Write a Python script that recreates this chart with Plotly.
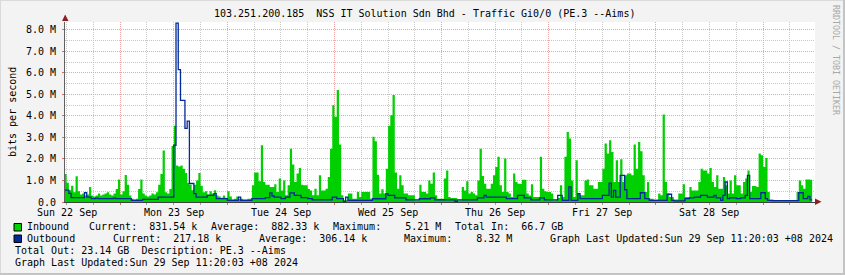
import plotly.graph_objects as go
import pandas as pd

# ---------------- data (30-minute averages, in Mbit/s) ----------------
inbound_mbps = [
    1.3, 0.9, 0.55, 0.75, 0.45, 1.2, 0.5, 0.35, 0.4, 0.3, 0.35, 0.7,
    0.3, 0.25, 0.3, 0.4, 0.3, 0.35, 0.4, 0.45, 0.35, 0.3, 0.4, 0.6,
    1.05, 0.35, 0.5, 1.25, 0.8, 0.3, 0.15, 0.12, 0.15, 0.6, 1.05, 0.4,
    0.3, 0.25, 0.3, 0.4, 0.35, 0.45, 0.8, 1.3, 2.4, 0.45, 0.4, 0.6,
    2.6, 3.55, 1.7, 1.65, 1.7, 1.55, 1.35, 0.9, 0.8, 0.55, 0.8, 1.0,
    1.35, 0.75, 0.45, 0.5, 0.35, 0.5, 0.4, 0.55, 0.3, 0.25, 0.2, 0.3,
    0.2, 0.5, 0.25, 0.12, 0.15, 0.25, 0.15, 0.15, 0.12, 0.12, 0.15, 0.15,
    0.78, 1.37, 1.37, 0.96, 2.64, 0.93, 0.8, 0.8, 0.7, 0.7, 0.82, 0.47,
    1.09, 0.54, 1.0, 0.31, 0.78, 2.48, 1.74, 0.93, 1.32, 1.58, 0.8, 0.78,
    0.78, 0.6, 0.54, 0.31, 0.62, 0.31, 1.24, 0.54, 0.54, 0.62, 1.16, 2.48,
    4.5, 3.96, 5.21, 2.67, 0.31, 0.08, 0.08, 0.39, 0.39, 0.15, 0.15, 0.47,
    0.23, 0.47, 0.47, 0.47, 0.47, 0.15, 3.03, 2.83, 1.27, 0.39, 0.59, 0.39,
    1.55, 3.54, 4.03, 4.97, 1.37, 0.62, 1.24, 0.78, 0.39, 0.39, 0.31, 0.31,
    0.31, 0.08, 0.08, 0.8, 0.47, 0.47, 0.39, 1.0, 0.85, 1.37, 0.31, 0.15,
    0.15, 0.15, 1.09, 1.47, 0.23, 0.19, 0.19, 0.19, 0.08, 0.08, 0.7, 0.54,
    0.96, 0.39, 0.47, 0.4, 0.31, 1.0, 2.48, 1.21, 0.85, 0.62, 0.62, 0.85,
    1.24, 1.63, 2.1, 0.78, 0.47, 2.02, 0.47, 0.39, 0.23, 1.32, 0.93, 0.85,
    0.85, 1.04, 1.04, 0.39, 0.3, 0.82, 0.23, 0.23, 0.23, 2.1, 0.62, 0.5,
    0.47, 0.47, 0.39, 0.08, 0.1, 0.19, 0.78, 0.23, 2.1, 3.26, 2.95, 1.0,
    0.23, 1.94, 0.39, 0.31, 0.31, 1.0, 1.05, 0.78, 0.78, 0.62, 0.62, 0.93,
    0.93, 1.55, 2.72, 2.25, 2.87, 2.33, 0.93, 1.94, 0.93, 1.99, 0.93, 1.24,
    1.32, 1.32, 1.24, 2.67, 1.55, 2.79, 2.36, 1.24, 0.47, 0.93, 0.15, 0.15,
    0.1, 0.1, 0.39, 0.31, 4.07, 0.93, 0.39, 0.23, 0.23, 0.12, 0.12, 0.39,
    0.39, 0.82, 0.23, 0.23, 0.7, 0.54, 0.54, 0.54, 0.93, 1.55, 1.47, 1.47,
    1.32, 1.58, 0.93, 0.7, 1.24, 0.62, 0.62, 1.16, 0.78, 0.39, 1.0, 0.39,
    1.24, 0.78, 0.78, 0.39, 0.93, 1.09, 1.47, 0.47, 0.74, 0.74, 0.7, 2.25,
    2.17, 1.63, 2.05, 0.47, 0.1, 0.1, 0.08, 0.08, 0.08, 0.08, 0.08, 0.08,
    0.08, 0.08, 0.08, 0.08, 0.47, 1.0, 0.78, 0.62, 1.05, 1.05, 1.04, 0.08,
]

outbound_mbps = [
    0.55, 0.55, 0.4, 0.2, 0.2, 0.2, 0.2, 0.2, 0.2, 0.43, 0.23, 0.23,
    0.16, 0.16, 0.18, 0.16, 0.16, 0.16, 0.16, 0.16, 0.16, 0.16, 0.18, 0.16,
    0.16, 0.16, 0.16, 0.16, 0.16, 0.16, 0.08, 0.08, 0.08, 0.08, 0.08, 0.12,
    0.12, 0.12, 0.12, 0.12, 0.12, 0.12, 0.23, 0.23, 0.23, 0.23, 0.23, 0.23,
    0.23, 2.64, 8.32, 6.16, 4.73, 4.73, 3.42, 3.76, 0.86, 0.86, 0.39, 0.23,
    0.23, 0.23, 0.23, 0.23, 0.31, 0.31, 0.31, 0.39, 0.16, 0.16, 0.16, 0.16,
    0.16, 0.08, 0.08, 0.08, 0.08, 0.08, 0.23, 0.08, 0.08, 0.08, 0.08, 0.08,
    0.16, 0.16, 0.16, 0.16, 0.16, 0.16, 0.2, 0.2, 0.42, 0.28, 0.23, 0.23,
    0.23, 0.16, 0.16, 0.23, 0.23, 0.42, 0.42, 0.31, 0.31, 0.31, 0.2, 0.2,
    0.2, 0.16, 0.16, 0.1, 0.1, 0.1, 0.1, 0.1, 0.1, 0.1, 0.1, 0.1,
    0.23, 0.23, 0.16, 0.16, 0.16, 0.03, 0.23, 0.08, 0.08, 0.08, 0.08, 0.08,
    0.08, 0.08, 0.08, 0.08, 0.08, 0.08, 0.15, 0.15, 0.15, 0.15, 0.15, 0.15,
    0.39, 0.31, 0.31, 0.31, 0.19, 0.19, 0.19, 0.19, 0.19, 0.1, 0.1, 0.1,
    0.1, 0.1, 0.1, 0.15, 0.15, 0.15, 0.15, 0.15, 0.19, 0.19, 0.1, 0.1,
    0.1, 0.1, 0.1, 0.1, 0.1, 0.1, 0.1, 0.03, 0.1, 0.1, 0.1, 0.1,
    0.1, 0.1, 0.1, 0.1, 0.1, 0.19, 0.19, 0.19, 0.31, 0.23, 0.23, 0.23,
    0.23, 0.23, 0.23, 0.23, 0.23, 0.23, 0.16, 0.16, 0.16, 0.16, 0.16, 0.31,
    0.31, 0.31, 0.19, 0.19, 0.19, 0.1, 0.1, 0.1, 0.1, 0.19, 0.19, 0.1,
    0.1, 0.1, 0.1, 0.1, 0.1, 0.31, 0.31, 0.08, 0.08, 0.08, 0.7, 0.08,
    0.08, 0.08, 0.39, 0.16, 0.16, 0.16, 0.16, 0.16, 0.16, 0.16, 0.16, 0.16,
    0.16, 0.31, 0.31, 0.31, 0.88, 0.23, 0.54, 0.23, 0.23, 1.24, 1.24, 0.57,
    0.16, 0.16, 0.16, 0.16, 0.16, 0.16, 0.43, 0.43, 0.16, 0.16, 0.08, 0.08,
    0.08, 0.08, 0.08, 0.08, 0.08, 0.08, 0.36, 0.36, 0.08, 0.05, 0.05, 0.05,
    0.05, 0.05, 0.16, 0.16, 0.19, 0.19, 0.23, 0.23, 0.23, 0.31, 0.31, 0.31,
    0.23, 0.23, 0.23, 0.31, 0.19, 0.19, 0.08, 0.31, 0.93, 0.16, 0.19, 0.19,
    0.19, 0.16, 0.16, 0.19, 0.19, 0.31, 1.24, 0.16, 0.16, 0.16, 0.16, 0.16,
    0.43, 0.43, 0.16, 0.08, 0.08, 0.06, 0.06, 0.06, 0.06, 0.06, 0.06, 0.06,
    0.06, 0.06, 0.06, 0.06, 0.06, 0.43, 0.43, 0.16, 0.16, 0.26, 0.1, 0.1,
]

first_sample = "2024-09-21 23:30"
day_labels = ["Sun 22 Sep", "Mon 23 Sep", "Tue 24 Sep", "Wed 25 Sep",
              "Thu 26 Sep", "Fri 27 Sep", "Sat 28 Sep"]
y_tick_values_m = [0, 1, 2, 3, 4, 5, 6, 7, 8]
y_tick_labels = ["0.0", "1.0 M", "2.0 M", "3.0 M", "4.0 M", "5.0 M",
                 "6.0 M", "7.0 M", "8.0 M"]

title_text = "103.251.200.185  NSS IT Solution Sdn Bhd - Traffic Gi0/0 (PE.3 --Aims)"
legend_row1 = [("Inbound", 26), ("Current:  831.54 k", 88), ("Average:  882.33 k", 210),
               ("Maximum:    5.21 M", 332), ("Total In:  66.7 GB", 454)]
legend_row2 = [("Outbound", 26), ("Current:  217.18 k", 112), ("Average:  306.14 k", 258),
               ("Maximum:    8.32 M", 403),
               ("Graph Last Updated:Sun 29 Sep 11:20:03 +08 2024", 549)]
legend_row3 = "Total Out: 23.14 GB  Description: PE.3 --Aims"
legend_row4 = "Graph Last Updated:Sun 29 Sep 11:20:03 +08 2024"

IN_COLOR = "#00CF00"
OUT_COLOR = "#002A97"
FONT = "DejaVu Sans Mono"

# ---------------- derived ----------------
times = pd.date_range(first_sample, periods=len(inbound_mbps), freq="30min")
in_bps = [v * 1e6 for v in inbound_mbps]
out_bps = [v * 1e6 for v in outbound_mbps]
day_ticks = pd.date_range("2024-09-22", periods=len(day_labels), freq="D")
x_left = pd.Timestamp("2024-09-22") - pd.Timedelta(minutes=22)
x_right = x_left + pd.Timedelta(hours=168)

W, H = 845, 275
L, R, T, B = 65, 815, 22, 202
PW, PH = R - L, B - T


def xp(px):
    return (px - L) / PW


def yp(py):
    return (B - py) / PH


fig = go.Figure()
fig.add_trace(go.Scatter(x=times, y=in_bps, mode="lines", line=dict(width=0, shape="hv"),
                         fill="tozeroy", fillcolor=IN_COLOR, hoverinfo="skip",
                         showlegend=False))
fig.add_trace(go.Scatter(x=times, y=out_bps, mode="lines",
                         line=dict(color=OUT_COLOR, width=1.3, shape="hv"),
                         hoverinfo="skip", showlegend=False))

GRID_GRAY = "#C8C8C8"
GRID_RED = "#EBA5A5"

fig.update_layout(
    width=W, height=H,
    margin=dict(l=L, r=W - R, t=T, b=H - B, pad=0),
    paper_bgcolor="#F3F3F3",
    plot_bgcolor="#FFFFFF",
    font=dict(family=FONT, size=10, color="#000000"),
    xaxis=dict(
        type="date", range=[x_left, x_right], fixedrange=True,
        tick0="2024-09-22 12:00", dtick=24 * 3600 * 1000,
        showticklabels=False, ticks="outside", ticklen=2, tickcolor="#D07070",
        showgrid=True, gridcolor=GRID_RED, griddash="1px,1px", gridwidth=1,
        minor=dict(tick0="2024-09-22", dtick=6 * 3600 * 1000, showgrid=True,
                   gridcolor=GRID_GRAY, griddash="1px,1px", gridwidth=1,
                   ticks="outside", ticklen=2, tickcolor="#A0A0A0"),
        showline=True, linecolor="#404040", linewidth=1, zeroline=False,
    ),
    yaxis=dict(
        range=[0, 8.37e6], fixedrange=True,
        tickvals=[v * 1e6 for v in y_tick_values_m], ticktext=y_tick_labels,
        ticks="outside", ticklen=2, tickcolor="#D07070",
        showgrid=True, gridcolor=GRID_RED, griddash="1px,1px", gridwidth=1,
        minor=dict(dtick=0.5e6, showgrid=True, gridcolor=GRID_GRAY,
                   griddash="1px,1px", gridwidth=1),
        showline=True, linecolor="#606060", linewidth=1, zeroline=False,
        tickfont=dict(family=FONT, size=10, color="#000000"),
        ticklabelstandoff=4,
    ),
)

ann = []
# day labels under the x axis
for d, lab in zip(day_ticks, day_labels):
    ann.append(dict(x=d, xref="x", y=yp(212), yref="paper", text=lab, showarrow=False,
                    xanchor="center", yanchor="middle",
                    font=dict(family=FONT, size=10, color="#000000")))
# title
ann.append(dict(x=xp(424.5), y=yp(14), xref="paper", yref="paper", text=title_text,
                showarrow=False, xanchor="center", yanchor="middle",
                font=dict(family=FONT, size=10, color="#000000")))
# y axis title
ann.append(dict(x=xp(12), y=yp(112), xref="paper", yref="paper", text="bits per second",
                showarrow=False, textangle=-90, xanchor="center", yanchor="middle",
                font=dict(family=FONT, size=10, color="#000000")))
# watermark
ann.append(dict(x=xp(836), y=yp(60), xref="paper", yref="paper",
                text="RRDTOOL / TOBI OETIKER", showarrow=False, textangle=90,
                xanchor="center", yanchor="middle",
                font=dict(family=FONT, size=8.3, color="#A8A8A8")))


def nb(s):
    return s.replace(" ", "\u00a0")


for row, ypix in ((legend_row1, 226.7), (legend_row2, 238.3)):
    for txt, xpix in row:
        ann.append(dict(x=xp(xpix - 1), y=yp(ypix), xref="paper", yref="paper",
                        text=nb(txt), showarrow=False, xanchor="left", yanchor="middle",
                        font=dict(family=FONT, size=10, color="#000000")))
for txt, ypix in ((legend_row3, 250.7), (legend_row4, 262.7)):
    ann.append(dict(x=xp(13), y=yp(ypix), xref="paper", yref="paper",
                    text=nb(txt), showarrow=False, xanchor="left", yanchor="middle",
                    font=dict(family=FONT, size=10, color="#000000")))
fig.update_layout(annotations=ann)

shapes = []
# frame of the whole image
shapes.append(dict(type="line", xref="paper", yref="paper", x0=xp(0), x1=xp(W), y0=yp(0.5), y1=yp(0.5),
                   line=dict(color="#DADADA", width=1)))
shapes.append(dict(type="line", xref="paper", yref="paper", x0=xp(0.5), x1=xp(0.5), y0=yp(0), y1=yp(H),
                   line=dict(color="#DADADA", width=1)))
shapes.append(dict(type="line", xref="paper", yref="paper", x0=xp(0), x1=xp(W), y0=yp(H - 1), y1=yp(H - 1),
                   line=dict(color="#C4C4C4", width=2)))
shapes.append(dict(type="line", xref="paper", yref="paper", x0=xp(W - 1), x1=xp(W - 1), y0=yp(0), y1=yp(H),
                   line=dict(color="#C4C4C4", width=2)))
# legend colour boxes
for color, ytop in ((IN_COLOR, 223.5), (OUT_COLOR, 235)):
    shapes.append(dict(type="rect", xref="paper", yref="paper",
                       x0=xp(14), x1=xp(21.5), y0=yp(ytop), y1=yp(ytop + 7.5),
                       fillcolor=color, line=dict(color="#000000", width=1)))
# axis arrows
ARROW = "#8B2020"
shapes.append(dict(type="path", xref="paper", yref="paper",
                   path=f"M {xp(62)} {yp(21)} L {xp(68.5)} {yp(21)} L {xp(65.2)} {yp(14.5)} Z",
                   fillcolor=ARROW, line=dict(color=ARROW, width=0)))
shapes.append(dict(type="path", xref="paper", yref="paper",
                   path=f"M {xp(815)} {yp(198.5)} L {xp(815)} {yp(205)} L {xp(821.5)} {yp(201.8)} Z",
                   fillcolor=ARROW, line=dict(color=ARROW, width=0)))
fig.update_layout(shapes=shapes)

fig.write_html("out.html")
